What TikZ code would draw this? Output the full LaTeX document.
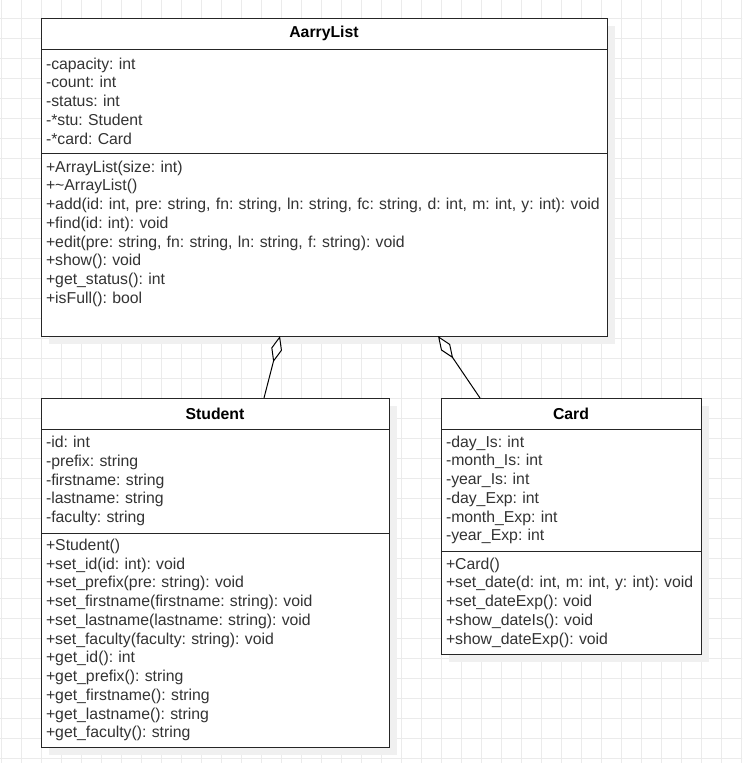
\documentclass[tikz,border=0pt]{standalone}
\usepackage{fontspec}
\setmainfont{Liberation Sans}
\usetikzlibrary{positioning,shadows,arrows.meta}
\definecolor{gridgray}{HTML}{EBEBEB}
\definecolor{shadegray}{HTML}{F0F0F0}
\definecolor{ink}{HTML}{333333}
\begin{document}
\begin{tikzpicture}[x=1pt,y=-1pt]
\tikzstyle{box} = [rectangle, draw=black!85, line width=1pt, fill=white, outer sep=0pt, inner xsep=5pt, inner ysep=0pt, align=left, text=ink, font=\fontsize{15.8}{18.75}\selectfont\frenchspacing, drop shadow={shadow xshift=8pt, shadow yshift=-8pt, fill=shadegray, opacity=1}]
\tikzstyle{head} = [box, align=center, text=black, font=\fontsize{15.8}{18.75}\selectfont\bfseries, minimum height=31pt]
\tikzstyle{arrow} = [line width=1pt, -{Diamond[fill=white,length=27pt,width=11pt]}]

% background and grid
\useasboundingbox (0,0) rectangle (742,763);
\fill[white] (0,0) rectangle (742,763);
\begin{scope}
\clip (0,0) rectangle (742,763);
\draw[gridgray, line width=0.8pt, shift={(1.5,18)}] (-20,-20) grid[step=20pt] (760,760);
\end{scope}

% AarryList
\node (listname) [head, text width=556pt] at (324,33.5) {AarryList};
\node (listattr) [box, text width=556pt, minimum height=104pt, below=0pt of listname] {-capacity: int\\-count: int\\-status: int\\-*stu: Student\\-*card: Card};
\node (listops) [box, text width=556pt, minimum height=183pt, below=0pt of listattr] {+ArrayList(size: int)\\+\textasciitilde ArrayList()\\+add(id: int, pre: string, fn: string, ln: string, fc: string, d: int, m: int, y: int): void\\+find(id: int): void\\+edit(pre: string, fn: string, ln: string, f: string): void\\+show(): void\\+get\_status(): int\\+isFull(): bool\rule[-25pt]{0pt}{1pt}};

% Student
\node (stuname) [head, text width=338pt] at (215,413.5) {Student};
\node (stuattr) [box, text width=338pt, minimum height=104pt, below=0pt of stuname] {-id: int\\-prefix: string\\-firstname: string\\-lastname: string\\-faculty: string};
\node (stuops) [box, text width=338pt, minimum height=214pt, below=0pt of stuattr] {+Student()\\+set\_id(id: int): void\\+set\_prefix(pre: string): void\\+set\_firstname(firstname: string): void\\+set\_lastname(lastname: string): void\\+set\_faculty(faculty: string): void\\+get\_id(): int\\+get\_prefix(): string\\+get\_firstname(): string\\+get\_lastname(): string\\+get\_faculty(): string};

% Card
\node (cardname) [head, text width=250pt, right=52pt of stuname] {Card};
\node (cardattr) [box, text width=250pt, minimum height=122pt, below=0pt of cardname] {-day\_Is: int\\-month\_Is: int\\-year\_Is: int\\-day\_Exp: int\\-month\_Exp: int\\-year\_Exp: int};
\node (cardops) [box, text width=250pt, minimum height=103pt, below=0pt of cardattr] {+Card()\\+set\_date(d: int, m: int, y: int): void\\+set\_dateExp(): void\\+show\_dateIs(): void\\+show\_dateExp(): void};

% aggregations
\draw [arrow] ([xshift=49pt]stuname.north) -- ([xshift=-44pt]listops.south);
\draw [arrow] ([xshift=-91pt]cardname.north) -- ([xshift=114pt]listops.south);
\end{tikzpicture}
\end{document}
